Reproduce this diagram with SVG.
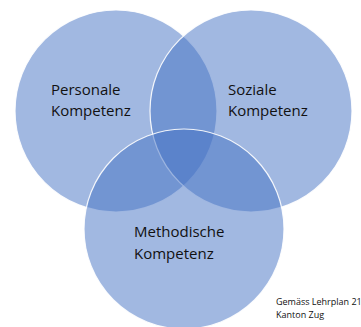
<svg xmlns="http://www.w3.org/2000/svg" width="361" height="327" viewBox="0 0 361 327">
<style>
.c{fill:#4472C4;fill-opacity:0.5;stroke:#ffffff;stroke-width:1.2;stroke-opacity:0.9}
.t{font-family:"Open Sans","Liberation Sans",sans-serif;font-size:15px;fill:#111111}
.n{font-family:"Open Sans","Liberation Sans",sans-serif;font-size:9px;fill:#111111}
</style>
<rect width="361" height="327" fill="#ffffff"/>
<g id="personale">
<circle class="c" cx="116" cy="111" r="101"/>
<text class="t" x="51" y="95">Personale</text>
<text class="t" x="51" y="116">Kompetenz</text>
</g>
<g id="soziale">
<circle class="c" cx="251" cy="111" r="101"/>
<text class="t" x="228" y="95">Soziale</text>
<text class="t" x="228" y="116">Kompetenz</text>
</g>
<g id="methodische">
<circle class="c" cx="184" cy="229" r="100"/>
<text class="t" x="134" y="237">Methodische</text>
<text class="t" x="134" y="259">Kompetenz</text>
</g>
<g id="connectors"></g>
<g id="note">
<text class="n" x="276" y="305">Gemäss Lehrplan 21</text>
<text class="n" x="276" y="318">Kanton Zug</text>
</g>
</svg>
